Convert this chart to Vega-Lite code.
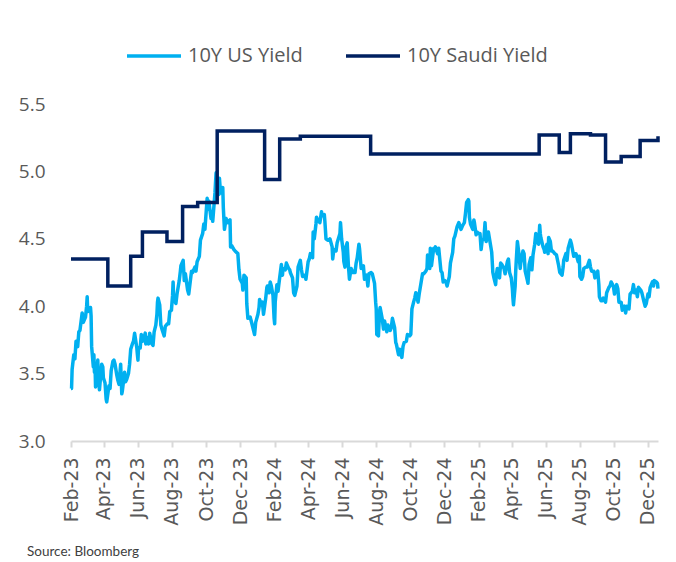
{
  "$schema": "https://vega.github.io/schema/vega-lite/v6.json",
  "width": 587,
  "height": 337,
  "autosize": {"type": "none"},
  "padding": {"left": 71, "top": 104, "right": 18, "bottom": 121},
  "background": "white",
  "config": {"view": {"stroke": null}, "font": "Open Sans"},
  "title": {"text": "Source: Bloomberg", "orient": "bottom", "anchor": "start", "frame": "group", "fontSize": 13.5, "font": "Lato", "fontWeight": "normal", "color": "#404040", "dx": -44, "offset": 20},
  "datasets": {
    "us": [
      {"d":"2023-02-01","v":3.39},{"d":"2023-02-02","v":3.39},{"d":"2023-02-03","v":3.53},{"d":"2023-02-06","v":3.64},{"d":"2023-02-08","v":3.61},{"d":"2023-02-10","v":3.74},{"d":"2023-02-13","v":3.70},{"d":"2023-02-15","v":3.81},{"d":"2023-02-17","v":3.82},{"d":"2023-02-21","v":3.95},{"d":"2023-02-23","v":3.88},{"d":"2023-02-27","v":3.92},
      {"d":"2023-03-01","v":4.00},{"d":"2023-03-02","v":4.07},{"d":"2023-03-03","v":3.96},{"d":"2023-03-07","v":3.97},{"d":"2023-03-08","v":3.99},{"d":"2023-03-09","v":3.93},{"d":"2023-03-10","v":3.70},{"d":"2023-03-13","v":3.55},{"d":"2023-03-14","v":3.64},{"d":"2023-03-15","v":3.51},{"d":"2023-03-16","v":3.58},{"d":"2023-03-17","v":3.40},{"d":"2023-03-20","v":3.49},{"d":"2023-03-21","v":3.60},{"d":"2023-03-22","v":3.44},{"d":"2023-03-23","v":3.42},{"d":"2023-03-24","v":3.38},{"d":"2023-03-28","v":3.57},{"d":"2023-03-30","v":3.55},{"d":"2023-03-31","v":3.47},
      {"d":"2023-04-03","v":3.43},{"d":"2023-04-05","v":3.31},{"d":"2023-04-06","v":3.29},{"d":"2023-04-10","v":3.41},{"d":"2023-04-12","v":3.39},{"d":"2023-04-14","v":3.52},{"d":"2023-04-17","v":3.59},{"d":"2023-04-19","v":3.60},{"d":"2023-04-21","v":3.57},{"d":"2023-04-24","v":3.49},{"d":"2023-04-26","v":3.45},{"d":"2023-04-28","v":3.42},
      {"d":"2023-05-01","v":3.57},{"d":"2023-05-03","v":3.35},{"d":"2023-05-04","v":3.37},{"d":"2023-05-08","v":3.51},{"d":"2023-05-10","v":3.44},{"d":"2023-05-12","v":3.46},{"d":"2023-05-15","v":3.50},{"d":"2023-05-17","v":3.57},{"d":"2023-05-19","v":3.68},{"d":"2023-05-22","v":3.72},{"d":"2023-05-24","v":3.74},{"d":"2023-05-26","v":3.80},{"d":"2023-05-30","v":3.69},{"d":"2023-05-31","v":3.64},
      {"d":"2023-06-01","v":3.60},{"d":"2023-06-02","v":3.69},{"d":"2023-06-05","v":3.69},{"d":"2023-06-07","v":3.79},{"d":"2023-06-09","v":3.74},{"d":"2023-06-12","v":3.77},{"d":"2023-06-14","v":3.80},{"d":"2023-06-15","v":3.72},{"d":"2023-06-16","v":3.77},{"d":"2023-06-20","v":3.72},{"d":"2023-06-22","v":3.80},{"d":"2023-06-26","v":3.72},{"d":"2023-06-28","v":3.71},{"d":"2023-06-30","v":3.81},
      {"d":"2023-07-03","v":3.86},{"d":"2023-07-05","v":3.94},{"d":"2023-07-06","v":4.03},{"d":"2023-07-07","v":4.06},{"d":"2023-07-10","v":4.01},{"d":"2023-07-12","v":3.86},{"d":"2023-07-14","v":3.83},{"d":"2023-07-18","v":3.78},{"d":"2023-07-20","v":3.85},{"d":"2023-07-24","v":3.87},{"d":"2023-07-26","v":3.87},{"d":"2023-07-28","v":3.96},{"d":"2023-07-31","v":3.97},
      {"d":"2023-08-02","v":4.08},{"d":"2023-08-03","v":4.18},{"d":"2023-08-04","v":4.05},{"d":"2023-08-08","v":4.02},{"d":"2023-08-10","v":4.09},{"d":"2023-08-14","v":4.19},{"d":"2023-08-16","v":4.26},{"d":"2023-08-17","v":4.30},{"d":"2023-08-21","v":4.34},{"d":"2023-08-23","v":4.19},{"d":"2023-08-25","v":4.24},{"d":"2023-08-29","v":4.12},{"d":"2023-08-31","v":4.09},
      {"d":"2023-09-05","v":4.26},{"d":"2023-09-07","v":4.25},{"d":"2023-09-11","v":4.29},{"d":"2023-09-13","v":4.26},{"d":"2023-09-15","v":4.33},{"d":"2023-09-19","v":4.37},{"d":"2023-09-21","v":4.49},{"d":"2023-09-25","v":4.54},{"d":"2023-09-27","v":4.61},{"d":"2023-09-29","v":4.57},
      {"d":"2023-10-03","v":4.80},{"d":"2023-10-05","v":4.72},{"d":"2023-10-06","v":4.78},{"d":"2023-10-10","v":4.65},{"d":"2023-10-12","v":4.70},{"d":"2023-10-13","v":4.63},{"d":"2023-10-17","v":4.84},{"d":"2023-10-19","v":4.99},{"d":"2023-10-20","v":4.91},{"d":"2023-10-23","v":4.84},{"d":"2023-10-24","v":4.83},{"d":"2023-10-25","v":4.95},{"d":"2023-10-27","v":4.84},{"d":"2023-10-31","v":4.88},
      {"d":"2023-11-01","v":4.73},{"d":"2023-11-03","v":4.57},{"d":"2023-11-06","v":4.65},{"d":"2023-11-09","v":4.62},{"d":"2023-11-13","v":4.64},{"d":"2023-11-14","v":4.44},{"d":"2023-11-16","v":4.45},{"d":"2023-11-20","v":4.42},{"d":"2023-11-22","v":4.41},{"d":"2023-11-27","v":4.39},{"d":"2023-11-29","v":4.27},
      {"d":"2023-12-01","v":4.20},{"d":"2023-12-05","v":4.17},{"d":"2023-12-06","v":4.12},{"d":"2023-12-08","v":4.23},{"d":"2023-12-12","v":4.21},{"d":"2023-12-13","v":4.02},{"d":"2023-12-15","v":3.91},{"d":"2023-12-19","v":3.92},{"d":"2023-12-21","v":3.89},{"d":"2023-12-27","v":3.79},{"d":"2023-12-29","v":3.88},
      {"d":"2024-01-02","v":3.94},{"d":"2024-01-04","v":3.99},{"d":"2024-01-05","v":4.05},{"d":"2024-01-08","v":4.01},{"d":"2024-01-10","v":4.03},{"d":"2024-01-12","v":3.94},{"d":"2024-01-16","v":4.06},{"d":"2024-01-18","v":4.14},{"d":"2024-01-19","v":4.15},{"d":"2024-01-22","v":4.10},{"d":"2024-01-24","v":4.18},{"d":"2024-01-26","v":4.15},{"d":"2024-01-29","v":4.08},{"d":"2024-01-31","v":3.91},
      {"d":"2024-02-01","v":3.87},{"d":"2024-02-02","v":4.03},{"d":"2024-02-05","v":4.16},{"d":"2024-02-07","v":4.11},{"d":"2024-02-09","v":4.18},{"d":"2024-02-13","v":4.31},{"d":"2024-02-15","v":4.23},{"d":"2024-02-16","v":4.28},{"d":"2024-02-20","v":4.27},{"d":"2024-02-22","v":4.32},{"d":"2024-02-26","v":4.28},{"d":"2024-02-28","v":4.27},{"d":"2024-02-29","v":4.25},
      {"d":"2024-03-04","v":4.21},{"d":"2024-03-06","v":4.10},{"d":"2024-03-08","v":4.08},{"d":"2024-03-12","v":4.15},{"d":"2024-03-14","v":4.29},{"d":"2024-03-18","v":4.34},{"d":"2024-03-20","v":4.27},{"d":"2024-03-22","v":4.22},{"d":"2024-03-26","v":4.23},{"d":"2024-03-28","v":4.20},
      {"d":"2024-04-01","v":4.33},{"d":"2024-04-03","v":4.35},{"d":"2024-04-05","v":4.39},{"d":"2024-04-09","v":4.36},{"d":"2024-04-10","v":4.55},{"d":"2024-04-12","v":4.50},{"d":"2024-04-15","v":4.61},{"d":"2024-04-16","v":4.66},{"d":"2024-04-18","v":4.64},{"d":"2024-04-22","v":4.62},{"d":"2024-04-25","v":4.70},{"d":"2024-04-26","v":4.67},{"d":"2024-04-30","v":4.68},
      {"d":"2024-05-01","v":4.63},{"d":"2024-05-03","v":4.50},{"d":"2024-05-06","v":4.49},{"d":"2024-05-08","v":4.49},{"d":"2024-05-10","v":4.50},{"d":"2024-05-14","v":4.44},{"d":"2024-05-15","v":4.35},{"d":"2024-05-17","v":4.42},{"d":"2024-05-21","v":4.41},{"d":"2024-05-23","v":4.47},{"d":"2024-05-28","v":4.54},{"d":"2024-05-29","v":4.62},{"d":"2024-05-31","v":4.50},
      {"d":"2024-06-03","v":4.40},{"d":"2024-06-04","v":4.33},{"d":"2024-06-06","v":4.29},{"d":"2024-06-07","v":4.43},{"d":"2024-06-10","v":4.47},{"d":"2024-06-12","v":4.31},{"d":"2024-06-14","v":4.20},{"d":"2024-06-17","v":4.28},{"d":"2024-06-20","v":4.25},{"d":"2024-06-24","v":4.25},{"d":"2024-06-26","v":4.32},{"d":"2024-06-28","v":4.36},
      {"d":"2024-07-01","v":4.46},{"d":"2024-07-02","v":4.43},{"d":"2024-07-05","v":4.28},{"d":"2024-07-09","v":4.30},{"d":"2024-07-11","v":4.20},{"d":"2024-07-15","v":4.23},{"d":"2024-07-17","v":4.15},{"d":"2024-07-19","v":4.24},{"d":"2024-07-23","v":4.25},{"d":"2024-07-25","v":4.24},{"d":"2024-07-29","v":4.17},{"d":"2024-07-31","v":4.03},
      {"d":"2024-08-01","v":3.98},{"d":"2024-08-02","v":3.79},{"d":"2024-08-05","v":3.78},{"d":"2024-08-07","v":3.96},{"d":"2024-08-08","v":3.99},{"d":"2024-08-12","v":3.90},{"d":"2024-08-14","v":3.83},{"d":"2024-08-16","v":3.89},{"d":"2024-08-20","v":3.81},{"d":"2024-08-22","v":3.86},{"d":"2024-08-26","v":3.82},{"d":"2024-08-28","v":3.84},{"d":"2024-08-30","v":3.91},
      {"d":"2024-09-03","v":3.84},{"d":"2024-09-05","v":3.73},{"d":"2024-09-06","v":3.72},{"d":"2024-09-10","v":3.64},{"d":"2024-09-12","v":3.68},{"d":"2024-09-16","v":3.62},{"d":"2024-09-18","v":3.70},{"d":"2024-09-20","v":3.73},{"d":"2024-09-24","v":3.74},{"d":"2024-09-26","v":3.79},{"d":"2024-09-30","v":3.78},
      {"d":"2024-10-02","v":3.79},{"d":"2024-10-04","v":3.98},{"d":"2024-10-07","v":4.03},{"d":"2024-10-09","v":4.06},{"d":"2024-10-11","v":4.10},{"d":"2024-10-15","v":4.03},{"d":"2024-10-17","v":4.09},{"d":"2024-10-21","v":4.19},{"d":"2024-10-23","v":4.24},{"d":"2024-10-25","v":4.24},{"d":"2024-10-29","v":4.26},{"d":"2024-10-31","v":4.28},
      {"d":"2024-11-01","v":4.38},{"d":"2024-11-05","v":4.28},{"d":"2024-11-06","v":4.43},{"d":"2024-11-08","v":4.30},{"d":"2024-11-12","v":4.43},{"d":"2024-11-14","v":4.43},{"d":"2024-11-15","v":4.44},{"d":"2024-11-19","v":4.39},{"d":"2024-11-21","v":4.43},{"d":"2024-11-25","v":4.26},{"d":"2024-11-27","v":4.25},{"d":"2024-11-29","v":4.18},
      {"d":"2024-12-02","v":4.19},{"d":"2024-12-04","v":4.18},{"d":"2024-12-06","v":4.15},{"d":"2024-12-10","v":4.22},{"d":"2024-12-12","v":4.32},{"d":"2024-12-16","v":4.40},{"d":"2024-12-18","v":4.50},{"d":"2024-12-20","v":4.52},{"d":"2024-12-24","v":4.59},{"d":"2024-12-27","v":4.62},{"d":"2024-12-31","v":4.57},
      {"d":"2025-01-03","v":4.60},{"d":"2025-01-06","v":4.62},{"d":"2025-01-08","v":4.69},{"d":"2025-01-10","v":4.77},{"d":"2025-01-13","v":4.79},{"d":"2025-01-14","v":4.78},{"d":"2025-01-15","v":4.66},{"d":"2025-01-17","v":4.61},{"d":"2025-01-21","v":4.57},{"d":"2025-01-23","v":4.64},{"d":"2025-01-24","v":4.62},{"d":"2025-01-27","v":4.53},{"d":"2025-01-29","v":4.55},{"d":"2025-01-31","v":4.54},
      {"d":"2025-02-03","v":4.54},{"d":"2025-02-05","v":4.42},{"d":"2025-02-07","v":4.49},{"d":"2025-02-10","v":4.50},{"d":"2025-02-12","v":4.62},{"d":"2025-02-14","v":4.48},{"d":"2025-02-18","v":4.55},{"d":"2025-02-20","v":4.50},{"d":"2025-02-24","v":4.40},{"d":"2025-02-26","v":4.25},{"d":"2025-02-28","v":4.21},
      {"d":"2025-03-03","v":4.16},{"d":"2025-03-04","v":4.22},{"d":"2025-03-06","v":4.28},{"d":"2025-03-10","v":4.21},{"d":"2025-03-12","v":4.32},{"d":"2025-03-14","v":4.31},{"d":"2025-03-18","v":4.28},{"d":"2025-03-20","v":4.24},{"d":"2025-03-24","v":4.33},{"d":"2025-03-26","v":4.35},{"d":"2025-03-28","v":4.25},{"d":"2025-03-31","v":4.21},
      {"d":"2025-04-02","v":4.13},{"d":"2025-04-03","v":4.06},{"d":"2025-04-04","v":4.01},{"d":"2025-04-07","v":4.15},{"d":"2025-04-08","v":4.26},{"d":"2025-04-09","v":4.34},{"d":"2025-04-11","v":4.48},{"d":"2025-04-14","v":4.38},{"d":"2025-04-16","v":4.28},{"d":"2025-04-17","v":4.32},{"d":"2025-04-21","v":4.41},{"d":"2025-04-23","v":4.39},{"d":"2025-04-25","v":4.26},{"d":"2025-04-29","v":4.19},{"d":"2025-04-30","v":4.17},
      {"d":"2025-05-02","v":4.31},{"d":"2025-05-05","v":4.36},{"d":"2025-05-07","v":4.27},{"d":"2025-05-09","v":4.38},{"d":"2025-05-12","v":4.46},{"d":"2025-05-14","v":4.54},{"d":"2025-05-16","v":4.48},{"d":"2025-05-19","v":4.46},{"d":"2025-05-21","v":4.60},{"d":"2025-05-22","v":4.54},{"d":"2025-05-23","v":4.51},{"d":"2025-05-27","v":4.44},{"d":"2025-05-29","v":4.42},{"d":"2025-05-30","v":4.40},
      {"d":"2025-06-03","v":4.46},{"d":"2025-06-05","v":4.39},{"d":"2025-06-06","v":4.51},{"d":"2025-06-09","v":4.48},{"d":"2025-06-11","v":4.41},{"d":"2025-06-13","v":4.41},{"d":"2025-06-17","v":4.39},{"d":"2025-06-20","v":4.38},{"d":"2025-06-24","v":4.30},{"d":"2025-06-26","v":4.25},{"d":"2025-06-30","v":4.23},
      {"d":"2025-07-02","v":4.29},{"d":"2025-07-03","v":4.34},{"d":"2025-07-07","v":4.39},{"d":"2025-07-09","v":4.34},{"d":"2025-07-11","v":4.43},{"d":"2025-07-15","v":4.49},{"d":"2025-07-17","v":4.46},{"d":"2025-07-21","v":4.37},{"d":"2025-07-23","v":4.39},{"d":"2025-07-25","v":4.39},{"d":"2025-07-29","v":4.33},{"d":"2025-07-31","v":4.37},
      {"d":"2025-08-01","v":4.22},{"d":"2025-08-04","v":4.20},{"d":"2025-08-06","v":4.22},{"d":"2025-08-08","v":4.28},{"d":"2025-08-12","v":4.29},{"d":"2025-08-14","v":4.29},{"d":"2025-08-18","v":4.34},{"d":"2025-08-20","v":4.29},{"d":"2025-08-22","v":4.26},{"d":"2025-08-26","v":4.26},{"d":"2025-08-28","v":4.21},
      {"d":"2025-09-02","v":4.26},{"d":"2025-09-04","v":4.16},{"d":"2025-09-05","v":4.07},{"d":"2025-09-08","v":4.04},{"d":"2025-09-10","v":4.04},{"d":"2025-09-12","v":4.06},{"d":"2025-09-16","v":4.03},{"d":"2025-09-18","v":4.10},{"d":"2025-09-22","v":4.14},{"d":"2025-09-24","v":4.15},{"d":"2025-09-26","v":4.18},{"d":"2025-09-30","v":4.15},
      {"d":"2025-10-02","v":4.09},{"d":"2025-10-06","v":4.16},{"d":"2025-10-08","v":4.13},{"d":"2025-10-10","v":4.03},{"d":"2025-10-14","v":4.03},{"d":"2025-10-16","v":3.97},{"d":"2025-10-20","v":4.00},{"d":"2025-10-22","v":3.95},{"d":"2025-10-24","v":4.00},{"d":"2025-10-28","v":3.98},{"d":"2025-10-30","v":4.09},
      {"d":"2025-11-03","v":4.11},{"d":"2025-11-05","v":4.16},{"d":"2025-11-07","v":4.10},{"d":"2025-11-10","v":4.12},{"d":"2025-11-12","v":4.07},{"d":"2025-11-14","v":4.14},{"d":"2025-11-18","v":4.12},{"d":"2025-11-20","v":4.10},{"d":"2025-11-24","v":4.03},{"d":"2025-11-26","v":4.00},{"d":"2025-11-28","v":4.02},
      {"d":"2025-12-01","v":4.09},{"d":"2025-12-03","v":4.07},{"d":"2025-12-05","v":4.14},{"d":"2025-12-09","v":4.18},{"d":"2025-12-11","v":4.15},{"d":"2025-12-12","v":4.19},{"d":"2025-12-16","v":4.18},{"d":"2025-12-18","v":4.17},{"d":"2025-12-19","v":4.13}
    ],
    "saudi": [
      {"d":"2023-02-01","v":4.35},{"d":"2023-04-08","v":4.15},{"d":"2023-05-19","v":4.37},{"d":"2023-06-09","v":4.55},{"d":"2023-07-23","v":4.48},{"d":"2023-08-20","v":4.74},{"d":"2023-09-16","v":4.77},{"d":"2023-10-21","v":5.30},{"d":"2024-01-14","v":4.94},{"d":"2024-02-10","v":5.24},{"d":"2024-03-18","v":5.26},{"d":"2024-07-22","v":5.13},{"d":"2025-05-20","v":5.27},{"d":"2025-06-25","v":5.14},{"d":"2025-07-15","v":5.28},{"d":"2025-08-20","v":5.27},{"d":"2025-09-16","v":5.07},{"d":"2025-10-14","v":5.11},{"d":"2025-11-17","v":5.23},{"d":"2025-12-17","v":5.23},{"d":"2025-12-19","v":5.26}
    ]
  },
  "encoding": {
    "x": {
      "field": "d", "type": "temporal",
      "scale": {"type": "utc", "nice": false, "domain": [{"year": 2023, "month": 2, "date": 1, "utc": true}, {"year": 2025, "month": 12, "date": 19, "utc": true}]},
      "axis": {
        "title": null, "grid": false, "format": "%b-%y", "labelAngle": -90,
        "values": [
          {"year": 2023, "month": 2, "date": 1, "utc": true}, {"year": 2023, "month": 4, "date": 1, "utc": true}, {"year": 2023, "month": 6, "date": 1, "utc": true}, {"year": 2023, "month": 8, "date": 1, "utc": true}, {"year": 2023, "month": 10, "date": 1, "utc": true}, {"year": 2023, "month": 12, "date": 1, "utc": true},
          {"year": 2024, "month": 2, "date": 1, "utc": true}, {"year": 2024, "month": 4, "date": 1, "utc": true}, {"year": 2024, "month": 6, "date": 1, "utc": true}, {"year": 2024, "month": 8, "date": 1, "utc": true}, {"year": 2024, "month": 10, "date": 1, "utc": true}, {"year": 2024, "month": 12, "date": 1, "utc": true},
          {"year": 2025, "month": 2, "date": 1, "utc": true}, {"year": 2025, "month": 4, "date": 1, "utc": true}, {"year": 2025, "month": 6, "date": 1, "utc": true}, {"year": 2025, "month": 8, "date": 1, "utc": true}, {"year": 2025, "month": 10, "date": 1, "utc": true}, {"year": 2025, "month": 12, "date": 1, "utc": true}
        ],
        "labelFont": "DejaVu Sans", "labelFontSize": 19, "labelColor": "#595959", "labelPadding": 10,
        "labelOverlap": false, "labelFlush": false, "labelBound": false,
        "domainColor": "#d9d9d9", "domainWidth": 2, "tickColor": "#d9d9d9", "tickWidth": 2, "tickSize": 6
      }
    },
    "y": {
      "field": "v", "type": "quantitative",
      "scale": {"domain": [3, 5.5], "nice": false, "zero": false},
      "axis": {"title": null, "grid": false, "domain": false, "ticks": false, "values": [3, 3.5, 4, 4.5, 5, 5.5], "format": ".1f", "labelFont": "Open Sans", "labelFontSize": 19, "labelColor": "#595959", "labelPadding": 26}
    }
  },
  "layer": [
    {
      "data": {"name": "us"},
      "mark": {"type": "line", "strokeWidth": 3.5, "strokeJoin": "round"},
      "encoding": {
        "color": {
          "datum": "10Y US Yield",
          "scale": {"domain": ["10Y US Yield", "10Y Saudi Yield"], "range": ["#00B0F0", "#002060"]},
          "legend": {"orient": "none", "legendX": 54, "legendY": -77, "direction": "horizontal", "title": null, "symbolType": "stroke", "symbolStrokeWidth": 3.5, "symbolSize": 2916, "labelFont": "Open Sans", "labelFontSize": 20, "labelColor": "#595959", "labelOffset": 5, "columnPadding": 36}
        }
      }
    },
    {
      "data": {"name": "saudi"},
      "mark": {"type": "line", "strokeWidth": 3.5, "interpolate": "step-after"},
      "encoding": {"color": {"datum": "10Y Saudi Yield"}}
    }
  ]
}
